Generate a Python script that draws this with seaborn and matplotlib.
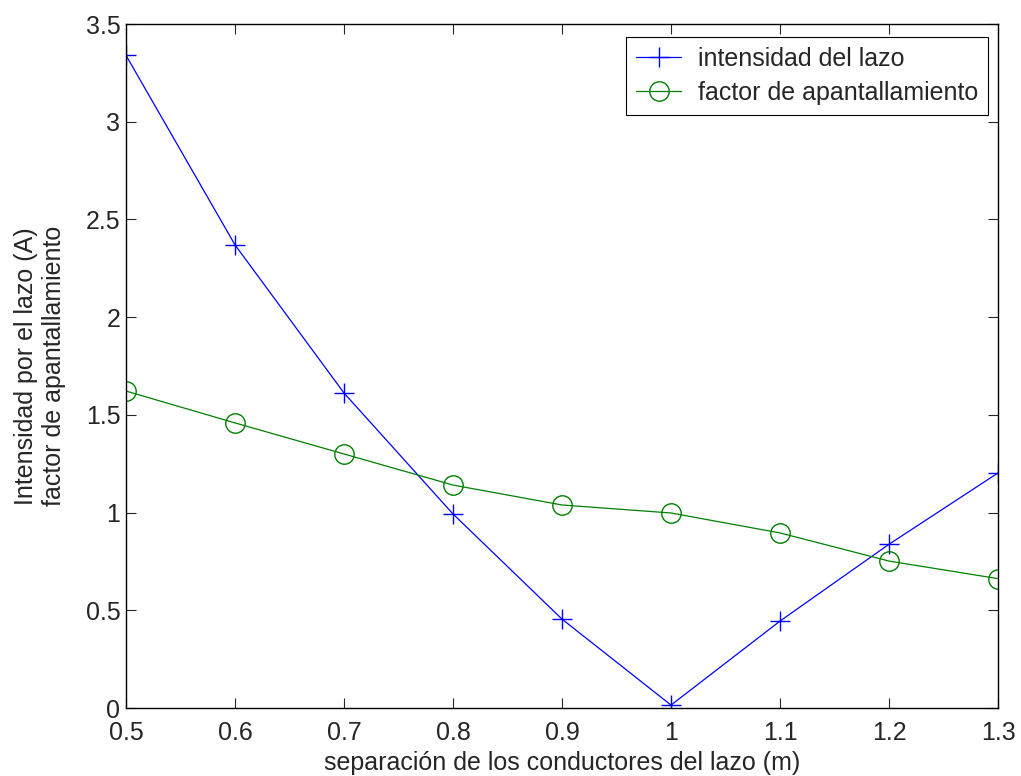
import matplotlib
matplotlib.use("Agg")
import matplotlib.pyplot as plt
import seaborn as sns
import pandas as pd

separacion = [0.5, 0.6, 0.7, 0.8, 0.9, 1.0, 1.1, 1.2, 1.3]
intensidad = [3.34, 2.37, 1.612, 0.993, 0.455, 0.015, 0.445, 0.838, 1.203]
factor = [1.622, 1.459, 1.30, 1.141, 1.039, 0.998, 0.896, 0.752, 0.662]
xticks = [0.5, 0.6, 0.7, 0.8, 0.9, 1.0, 1.1, 1.2, 1.3]
xticklabels = ["0.5", "0.6", "0.7", "0.8", "0.9", "1", "1.1", "1.2", "1.3"]
yticks = [0, 0.5, 1, 1.5, 2, 2.5, 3, 3.5]
yticklabels = ["0", "0.5", "1", "1.5", "2", "2.5", "3", "3.5"]

sns.set_style("ticks")
plt.rcParams['font.family'] = ['Liberation Sans', 'DejaVu Sans']

fig = plt.figure(figsize=(10.21, 7.76), dpi=100)
ax = fig.add_axes([0.1234, 0.0876, 0.8541, 0.8814])

df = pd.DataFrame({"x": separacion, "a": intensidad, "b": factor})
sns.lineplot(data=df, x="x", y="a", ax=ax, color="#0000ff", marker="+", markersize=15,
             markeredgewidth=1.0, markeredgecolor="#0000ff", linewidth=0.9,
             label="intensidad del lazo")
sns.lineplot(data=df, x="x", y="b", ax=ax, color="#008000", marker="o", markersize=14,
             markerfacecolor="none", markeredgecolor="#008000", markeredgewidth=1.0,
             linewidth=0.9, label="factor de apantallamiento")

ax.set_xlim(0.5, 1.3)
ax.set_ylim(0, 3.5)
ax.set_xticks(xticks)
ax.set_xticklabels(xticklabels)
ax.set_yticks(yticks)
ax.set_yticklabels(yticklabels)
ax.tick_params(direction="in", top=True, right=True, labelsize=18, length=7, width=0.8)
ax.tick_params(axis="x", pad=9)
ax.tick_params(axis="y", pad=4)
for s in ax.spines.values():
    s.set_visible(True)
    s.set_linewidth(1.0)
    s.set_color("black")
ax.set_xlabel("separación de los conductores del lazo (m)", fontsize=18, labelpad=5)
ax.set_ylabel("Intensidad por el lazo (A)\nfactor de apantallamiento", fontsize=18, labelpad=14)

leg = ax.legend(loc="upper right", bbox_to_anchor=(0.9885, 0.981), fontsize=18, frameon=True,
                fancybox=False, edgecolor="black", framealpha=1, borderpad=0.4,
                borderaxespad=0, handlelength=1.8, handletextpad=0.65, labelspacing=0.4)
leg.get_frame().set_linewidth(0.8)

fig.savefig("out.png", dpi=100)
